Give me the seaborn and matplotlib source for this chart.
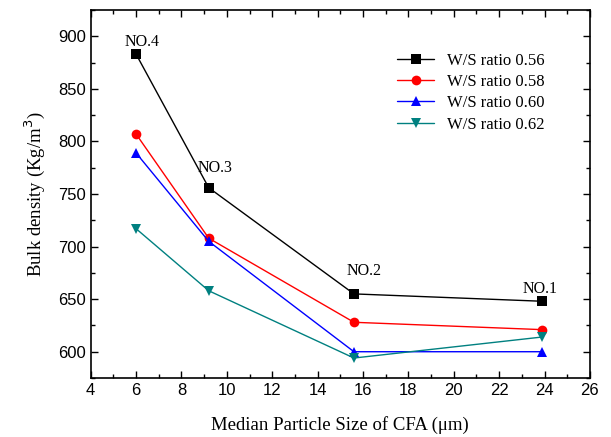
import matplotlib
matplotlib.use("Agg")
import matplotlib.pyplot as plt
import pandas as pd
import seaborn as sns
from matplotlib.ticker import MultipleLocator

# Datos
tamano = [6.0, 9.2, 15.6, 23.9]
ratios = ["W/S ratio 0.56", "W/S ratio 0.58", "W/S ratio 0.60", "W/S ratio 0.62"]
dens_056 = [883, 756, 655, 648]
dens_058 = [807, 708, 628, 621]
dens_060 = [789, 705, 600, 600]
dens_062 = [717, 658, 594, 614]
etiquetas = ["NO.4", "NO.3", "NO.2", "NO.1"]

sns.set_style("ticks")
plt.rcParams['font.family'] = ['Liberation Serif', 'DejaVu Serif']
plt.rcParams['text.color'] = 'black'
plt.rcParams['axes.labelcolor'] = 'black'
plt.rcParams['xtick.color'] = 'black'
plt.rcParams['ytick.color'] = 'black'

filas = []
for r, vals in zip(ratios, [dens_056, dens_058, dens_060, dens_062]):
    for x, y in zip(tamano, vals):
        filas.append({"x": x, "y": y, "ratio": r})
df = pd.DataFrame(filas)

colores = ["black", "red", "blue", "#008080"]
marcadores = ["s", "o", "^", "v"]

fig = plt.figure(figsize=(6.11, 4.37), dpi=100)
ax = fig.add_axes([0.1485, 0.135, 0.817, 0.842])

sns.lineplot(data=df, x="x", y="y", hue="ratio", style="ratio",
             palette=colores, markers=marcadores, dashes=False,
             markersize=7, markeredgewidth=0, linewidth=1, ax=ax)

ax.set_xlim(4, 26)
ax.set_ylim(575, 925)
ax.xaxis.set_major_locator(MultipleLocator(2))
ax.xaxis.set_minor_locator(MultipleLocator(1))
ax.yaxis.set_major_locator(MultipleLocator(50))
ax.yaxis.set_minor_locator(MultipleLocator(25))
ax.tick_params(which="both", direction="in", top=True, right=True,
               labeltop=False, labelright=False)
ax.tick_params(which="major", length=5, width=1)
ax.tick_params(which="minor", length=3, width=1)
for lab in ax.get_xticklabels() + ax.get_yticklabels():
    lab.set_family(['Liberation Sans', 'DejaVu Sans'])
    lab.set_fontsize(12)
for s in ax.spines.values():
    s.set_linewidth(1.2)
    s.set_color("black")

ax.set_xlabel("Median Particle Size of CFA (μm)", fontsize=13.5, labelpad=13)
ax.set_ylabel("Bulk density (Kg/m$^3$)", fontsize=13.5, labelpad=8)

# Etiquetas NO.x
pos_txt = [(6.25, 895), (9.5, 775), (16.05, 677), (23.8, 660)]
for t, (x, y) in zip(etiquetas, pos_txt):
    ax.text(x, y, t, ha="center", va="center", fontsize=11.5)

leg = ax.legend(loc="upper right", bbox_to_anchor=(0.94, 0.925), frameon=False,
                fontsize=12, handlelength=2.2, labelspacing=0.32, title=None)

fig.savefig("out.png", dpi=100)
